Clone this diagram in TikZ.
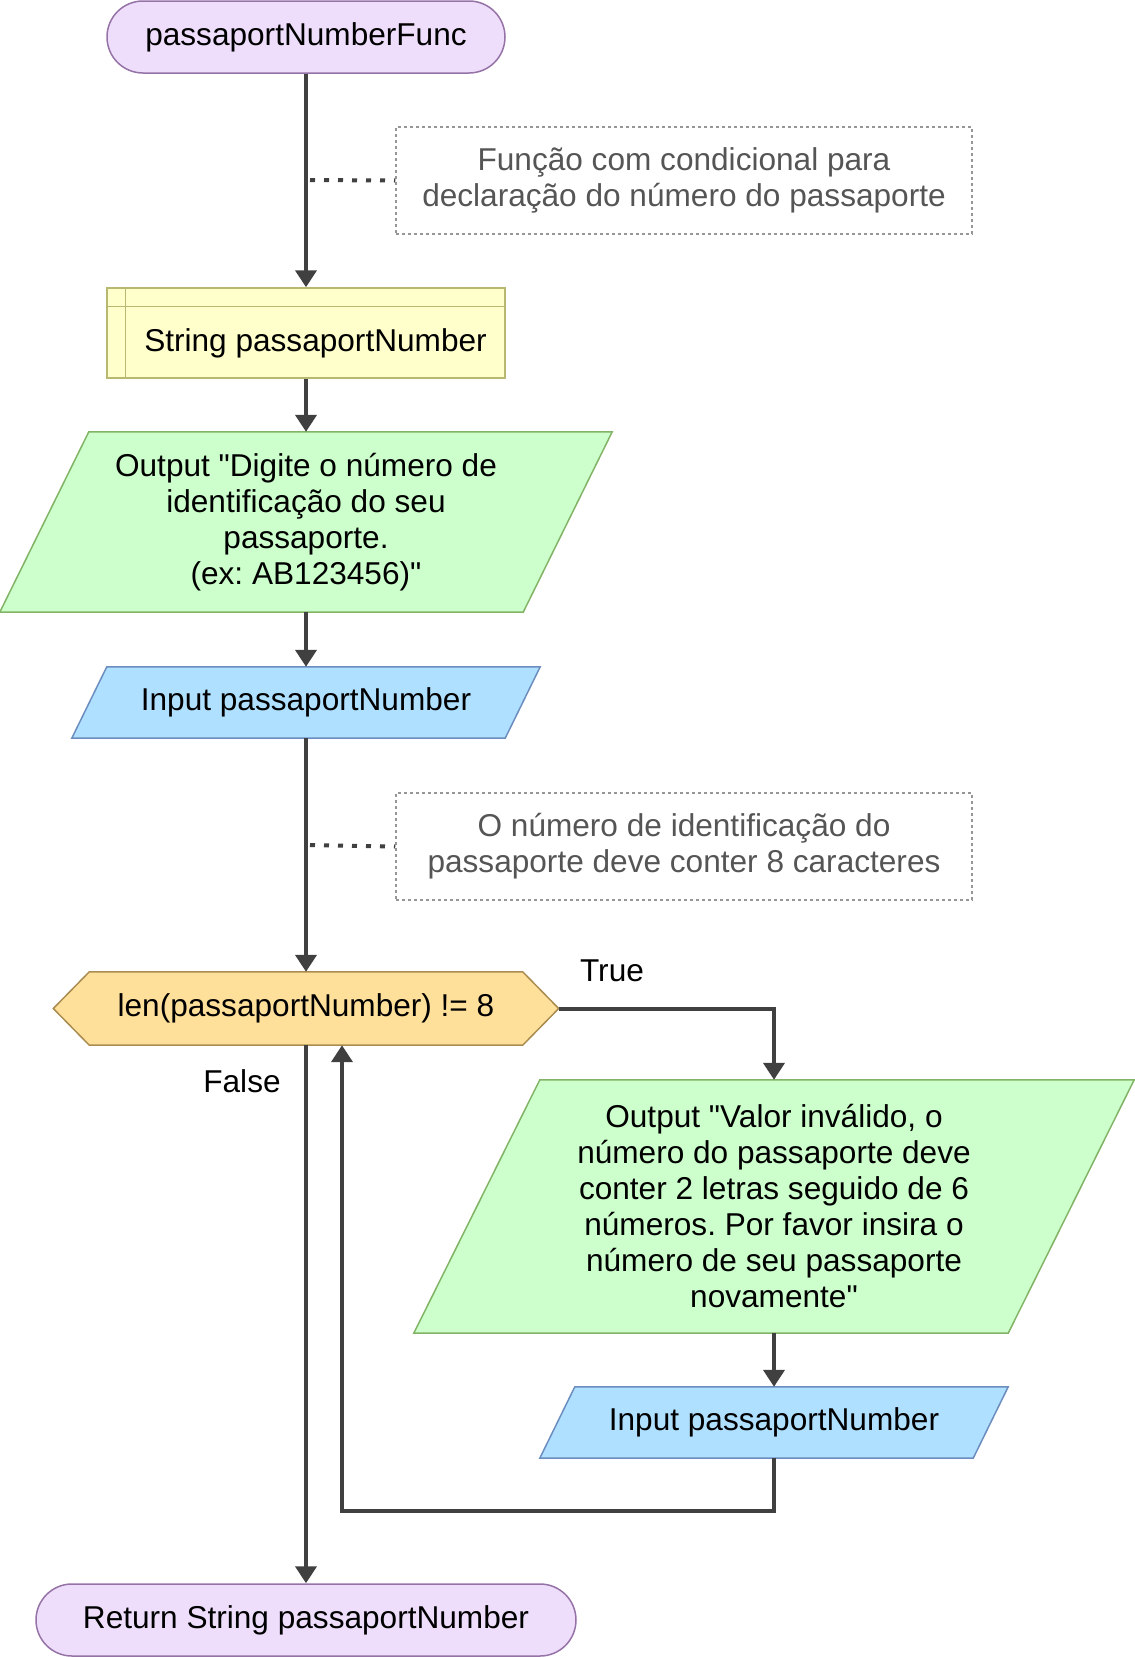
\documentclass[tikz,border=0pt]{standalone}
\usepackage{fontspec}
\setmainfont{Liberation Sans}[Ligatures=TeXOff]
\usetikzlibrary{arrows.meta,backgrounds,calc}
\frenchspacing
\definecolor{lineC}{RGB}{64,64,64}
\definecolor{termF}{RGB}{238,222,252}
\definecolor{termD}{RGB}{150,115,166}
\definecolor{storeF}{RGB}{255,255,204}
\definecolor{storeD}{RGB}{184,184,112}
\definecolor{outF}{RGB}{204,255,204}
\definecolor{outD}{RGB}{130,179,102}
\definecolor{inF}{RGB}{176,224,255}
\definecolor{inD}{RGB}{108,142,191}
\definecolor{decF}{RGB}{255,224,155}
\definecolor{decD}{RGB}{170,140,80}
\definecolor{noteD}{RGB}{150,150,150}
\definecolor{noteT}{RGB}{85,85,85}
\begin{document}
\begin{tikzpicture}[x=1pt,y=-1pt,
  font=\fontsize{31.6}{36}\selectfont\frenchspacing,
  shapebox/.style={inner sep=0pt, align=center, text=black},
  term/.style={shapebox, draw=termD, fill=termF, line width=1.5pt, rounded corners=36pt, minimum height=72},
  note/.style={shapebox, draw=noteD, line width=1.5pt, dash pattern=on 3pt off 3pt, text=noteT, minimum width=576, minimum height=107},
  store/.style={shapebox, draw=storeD, fill=storeF, line width=1.5pt, minimum width=398, minimum height=90},
  plain/.style={shapebox},
  flow/.style={line width=4pt, draw=lineC, -{Triangle[length=17pt,width=21pt]}},
  dotc/.style={line width=4pt, draw=lineC, dash pattern=on 5pt off 9pt},
  outline/.style={line width=1.5pt, draw=#1},
  lbl/.style={inner sep=0pt, text=black}
]
\useasboundingbox (0,0) rectangle (1135,1657);

% nodes
\node[term, minimum width=398] (start) at (306,37) {passaportNumberFunc};
\node[note] (n1) at (684,180.5) {Função com condicional para\\declaração do número do passaporte};
\node[store] (sb) at (306,333) {};
\draw[storeD, line width=1.5pt] ([xshift=19pt]sb.north west) -- ([xshift=19pt]sb.south west);
\draw[storeD, line width=1.5pt] ([yshift=-19pt]sb.north west) -- ([yshift=-19pt]sb.north east);
\node[plain] (sbt) at (315.5,343.5) {String passaportNumber};
\node[plain, minimum width=612, minimum height=180] (o1) at (306,522) {Output "Digite o número de\\identificação do seu\\passaporte.\\(ex: AB123456)"};
\node[plain, minimum width=468, minimum height=71] (i1) at (306,702.5) {Input passaportNumber};
\node[note] (n2) at (684,846.5) {O número de identificação do\\passaporte deve conter 8 caracteres};
\node[plain, minimum width=505, minimum height=73] (dec) at (306,1008.5) {len(passaportNumber) != 8};
\node[plain, minimum width=720, minimum height=253] (o2) at (774,1206.5) {Output "Valor inválido, o\\número do passaporte deve\\conter 2 letras seguido de 6\\números. Por favor insira o\\número de seu passaporte\\novamente"};
\node[plain, minimum width=468, minimum height=71] (i2) at (774,1422.5) {Input passaportNumber};
\node[term, minimum width=540] (ret) at (306,1620) {Return String passaportNumber};
\node[lbl] (tl) at (612,971) {True};
\node[lbl] (fl) at (242,1081) {False};

% shape outlines on background
\begin{pgfonlayer}{background}
  \draw[outline=outD, fill=outF] ([xshift=89pt]o1.north west) -- (o1.north east) -- ([xshift=-89pt]o1.south east) -- (o1.south west) -- cycle;
  \draw[outline=inD, fill=inF] ([xshift=35pt]i1.north west) -- (i1.north east) -- ([xshift=-35pt]i1.south east) -- (i1.south west) -- cycle;
  \draw[outline=decD, fill=decF] (dec.west) -- ([xshift=36pt]dec.north west) -- ([xshift=-36pt]dec.north east) -- (dec.east) -- ([xshift=-36pt]dec.south east) -- ([xshift=36pt]dec.south west) -- cycle;
  \draw[outline=outD, fill=outF] ([xshift=126pt]o2.north west) -- (o2.north east) -- ([xshift=-126pt]o2.south east) -- (o2.south west) -- cycle;
  \draw[outline=inD, fill=inF] ([xshift=35pt]i2.north west) -- (i2.north east) -- ([xshift=-35pt]i2.south east) -- (i2.south west) -- cycle;
\end{pgfonlayer}

% connectors
\draw[flow] (start.south) -- (sb.north);
\draw[flow] (sb.south) -- (o1.north);
\draw[flow] (o1.south) -- (i1.north);
\draw[flow] (i1.south) -- (dec.north);
\draw[flow] (dec.east) -| (o2.north);
\draw[flow] (o2.south) -- (i2.north);
\draw[flow] (dec.south) -- (ret.north);
\coordinate (lp) at (342,1511);
\draw[flow] (i2.south) |- (lp) -- (lp |- dec.south);

% annotation links
\coordinate (d1) at (310,180);
\draw[dotc] (d1) -- (n1.west);
\coordinate (d2) at (310,845);
\draw[dotc] (d2) -- (n2.west);
\end{tikzpicture}
\end{document}
